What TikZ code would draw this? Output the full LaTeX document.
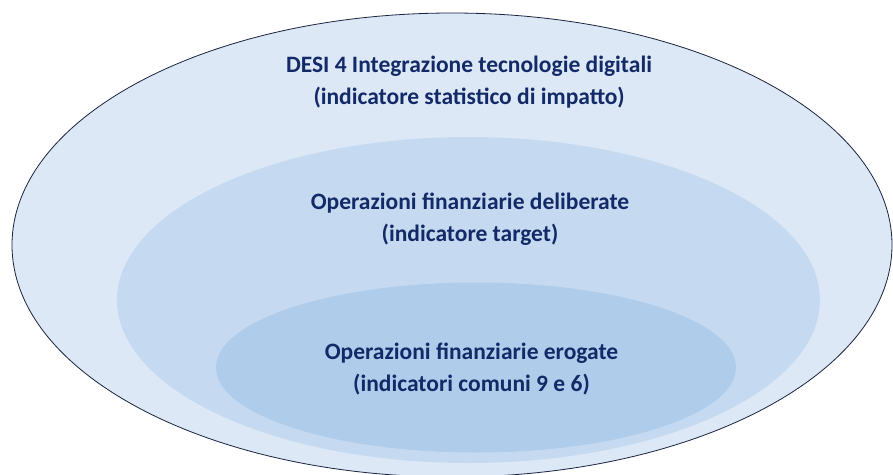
\documentclass[tikz,border=0pt]{standalone}
\usepackage{fontspec}
\setmainfont{Carlito}
\definecolor{outerfill}{HTML}{DCE8F5}
\definecolor{midfill}{HTML}{C5DAF0}
\definecolor{innerfill}{HTML}{AFCCEA}
\definecolor{navy}{HTML}{132A68}
\definecolor{rimline}{HTML}{1A2440}
\begin{document}
\begin{tikzpicture}[x=1pt,y=-1pt,
  label text/.style={text=navy,font=\bfseries\fontsize{23.5}{32}\selectfont,align=center,inner sep=0pt}]
\useasboundingbox (0,0) rectangle (893,474);
\clip (0,0) rectangle (893,474);
\fill[white] (0,0) rectangle (893,474);
\filldraw[fill=outerfill,draw=rimline,line width=0.8pt] (452,245) ellipse [x radius=440,y radius=232];
\fill[midfill] (468.5,300) ellipse [x radius=351.5,y radius=163];
\fill[innerfill] (476,367.5) ellipse [x radius=260,y radius=85];
\node[label text] (outertext) at (469,82) {DESI 4 Integrazione tecnologie digitali\\(indicatore statistico di impatto)};
\node[label text] (midtext) at (470,219) {Operazioni finanziarie deliberate\\(indicatore target)};
\node[label text] (innertext) at (471.5,369) {Operazioni finanziarie erogate\\(indicatori comuni 9 e 6)};
\end{tikzpicture}
\end{document}
